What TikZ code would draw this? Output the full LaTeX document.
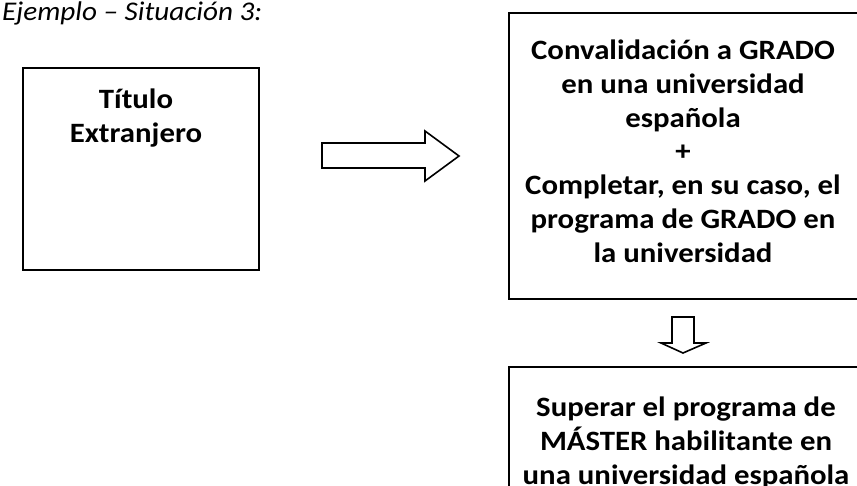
\documentclass[tikz,border=0pt]{standalone}
\usepackage{fontspec}
\setmainfont[FakeStretch=1.1]{Carlito}
\newfontfamily\headfont[FakeStretch=1.08]{Carlito}
\begin{document}
\begin{tikzpicture}[x=1pt,y=-1pt,
  box/.style={draw=black, line width=1.6pt, fill=white, anchor=north west, inner sep=0pt},
  boxtext/.style={font=\bfseries\fontsize{28}{33.7}\selectfont, align=center, inner sep=0pt, anchor=base},
  blockarrow/.style={draw=black, line width=1.6pt, fill=white, line join=miter}
]
\useasboundingbox (0,0) rectangle (857,485);

\node[font=\headfont\itshape\fontsize{27}{31}\selectfont, anchor=base west, inner sep=0pt] (head) at (2,20) {Ejemplo – Situación 3:};

% left box
\node[box, minimum width=236pt, minimum height=202pt] (titulo) at (22,67) {};
\node[boxtext] (titulotxt) at (136,142) {Título\\Extranjero};

% top right box
\node[box, minimum width=352pt, minimum height=286pt] (grado) at (508,12) {};
\node[boxtext] (gradotxt) at (683,262) {Convalidación a GRADO\\en una universidad\\española\\+\\Completar, en su caso, el\\programa de GRADO en\\la universidad};

% bottom right box
\node[box, minimum width=352pt, minimum height=160pt] (master) at (508,366) {};
\node[boxtext] (mastertxt) at (686,484) {Superar el programa de\\MÁSTER habilitante en\\una universidad española};

% right block arrow
\draw[blockarrow] (322,143) -- (425,143) -- (425,131) -- (459,156) -- (425,181) -- (425,168) -- (322,168) -- cycle;

% down block arrow
\draw[blockarrow] (672,317) -- (694,317) -- (694,343) -- (706,343) -- (683,353) -- (661,343) -- (672,343) -- cycle;
\end{tikzpicture}
\end{document}
